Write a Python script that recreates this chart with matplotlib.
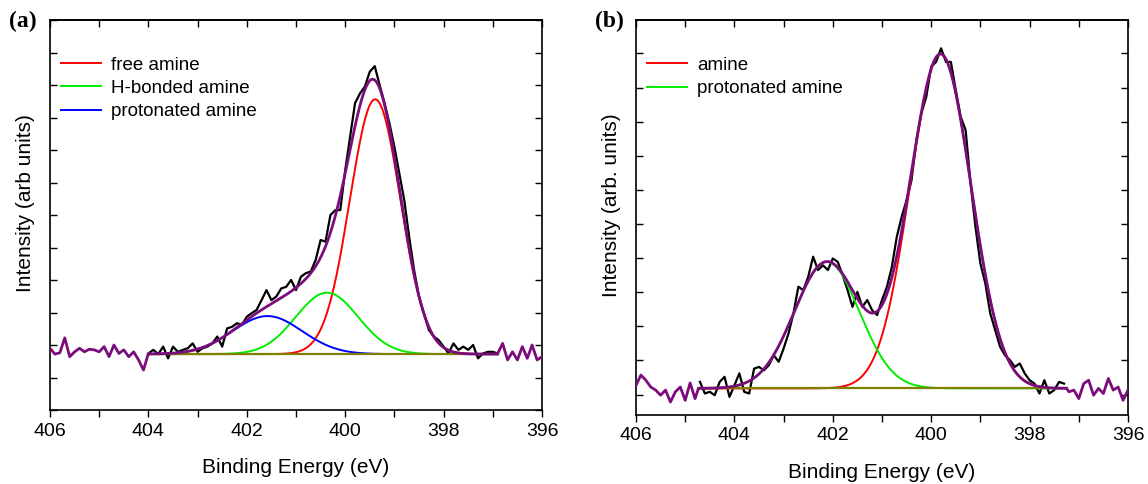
import numpy as np
import matplotlib
matplotlib.use("Agg")
import matplotlib.pyplot as plt
from matplotlib.ticker import MultipleLocator, FuncFormatter

# binding energy grid (eV), 406 -> 396
energy = [round(406.0 - 0.1 * i, 1) for i in range(101)]

# (a) raw spectrum, intensity in tick units
counts_a = [1.90, 1.72, 1.76, 2.22, 1.64, 1.79, 1.90, 1.79, 1.87, 1.85,
            1.79, 1.95, 1.64, 2.00, 1.74, 1.85, 1.64, 1.79, 1.54, 1.23,
            1.74, 1.85, 1.72, 1.95, 1.59, 1.95, 1.79, 1.85, 1.90, 2.05,
            1.79, 1.90, 1.95, 2.05, 2.26, 1.95, 2.51, 2.56, 2.67, 2.62,
            2.87, 2.98, 3.08, 3.38, 3.69, 3.38, 3.49, 3.74, 3.79, 4.00,
            3.69, 4.10, 4.21, 4.26, 4.62, 5.23, 5.18, 6.00, 6.15, 6.15,
            7.38, 8.41, 9.44, 9.74, 9.95, 10.41, 10.58, 10.00, 9.44, 8.82,
            8.10, 7.28, 6.46, 5.33, 4.31, 3.49, 2.98, 2.46, 2.26, 2.15,
            1.95, 1.74, 2.05, 1.85, 1.95, 1.85, 2.00, 1.59, 1.74, 1.79,
            1.79, 1.74, 2.05, 1.54, 1.79, 1.54, 1.95, 1.59, 2.00, 1.54,
            1.64]

# (b) raw spectrum
counts_b = [0.27, 0.57, 0.42, 0.22, 0.13, -0.02, 0.13, -0.22, 0.08, 0.22,
            -0.17, 0.34, -0.12, 0.37, 0.03, 0.08, -0.02, 0.37, 0.52, -0.07,
            0.27, 0.62, 0.08, 0.03, 0.76, 0.81, 0.71, 0.86, 1.15, 0.96,
            1.35, 1.79, 2.38, 3.16, 3.06, 3.45, 4.04, 3.65, 3.79, 3.65,
            3.99, 3.89, 3.50, 3.06, 2.57, 3.01, 2.57, 2.77, 2.47, 2.33,
            2.77, 3.16, 3.74, 4.62, 5.21, 5.70, 6.28, 7.46, 8.24, 8.73,
            9.61, 9.75, 10.15, 9.75, 9.75, 8.92, 8.14, 7.75, 6.19, 4.91,
            3.84, 3.26, 2.38, 1.89, 1.40, 1.15, 1.01, 0.81, 0.91, 0.62,
            0.42, 0.32, 0.03, 0.42, 0.03, 0.13, 0.37, 0.32, 0.08, 0.13,
            -0.12, 0.32, 0.42, -0.02, 0.18, 0.03, 0.47, 0.13, 0.22, -0.17,
            0.13]

# fit regions and linear background level
region_a = (404.0, 396.9)
region_b = (404.73, 397.25)
background_a = 1.72
background_b = 0.18

# fitted components: label, centre (eV), height, FWHM (eV)
labels_a = ["free amine", "H-bonded amine", "protonated amine"]
centres_a = [399.39, 400.37, 401.58]
heights_a = [7.84, 1.89, 1.17]
fwhm_a = [1.21, 1.49, 1.66]

labels_b = ["amine", "protonated amine"]
centres_b = [399.81, 402.12]
heights_b = [9.80, 3.71]
fwhm_b = [1.46, 1.56]

comp_colors = ["#ff0000", "#00ee00", "#0000ff"]


def peak(x, c, h, w):
    s = w / 2.3548
    return h * np.exp(-(x - c) ** 2 / (2 * s * s))


def panel(ax, counts, region, bg, labels, centres, heights, fwhm, yl):
    e = np.array(energy)
    y = np.array(counts)
    inside = (e <= region[0] + 1e-9) & (e >= region[1] - 1e-9)
    ax.plot(e[inside], y[inside], color="black", lw=1.6, zorder=2)

    xf = np.linspace(region[1], region[0], 400)
    total = np.full_like(xf, bg)
    handles = []
    for lab, c, h, w, col in zip(labels, centres, heights, fwhm, comp_colors):
        comp = peak(xf, c, h, w)
        total += comp
        hl, = ax.plot(xf, comp + bg, color=col, lw=1.4, label=lab, zorder=3)
        handles.append(hl)
    ax.plot(xf, np.full_like(xf, bg), color="#808000", lw=1.6, zorder=4)

    # envelope: raw data outside the fit region, fit inside
    left = e >= region[0] - 1e-9
    right = e <= region[1] + 1e-9
    ex = np.concatenate([e[left], xf[::-1], e[right]])
    ey = np.concatenate([y[left], total[::-1], y[right]])
    ax.plot(ex, ey, color="#7b0c7b", lw=2.0, zorder=5)

    ax.set_xlim(406, 396)
    ax.xaxis.set_major_locator(MultipleLocator(1))
    ax.xaxis.set_major_formatter(FuncFormatter(
        lambda v, p: f"{v:.0f}" if round(v) % 2 == 0 else ""))
    ax.yaxis.set_major_locator(MultipleLocator(1))
    ax.set_yticklabels([])
    ax.tick_params(axis="y", direction="in", length=5, width=1,
                   left=True, right=True, labelleft=False)
    ax.tick_params(axis="x", direction="out", length=5, width=1,
                   top=False, labelsize=14, pad=4)
    sec = ax.secondary_xaxis("top")
    sec.xaxis.set_major_locator(MultipleLocator(1))
    sec.tick_params(direction="in", length=5, width=1, labeltop=False)
    for s in ax.spines.values():
        s.set_linewidth(1.2)
    sec.spines["top"].set_linewidth(1.2)

    ax.set_xlabel("Binding Energy (eV)", fontsize=15, labelpad=13)
    ax.set_ylabel(yl, fontsize=15)
    ax.yaxis.set_label_coords(-0.030, 0.53)
    ax.legend(handles=handles, loc="upper left", frameon=False, fontsize=13.5,
              handlelength=2.1, handletextpad=0.55, labelspacing=0.33,
              bbox_to_anchor=(0.0, 0.935), borderaxespad=0.2)


fig = plt.figure(figsize=(11.48, 4.84), dpi=100)
plt.rcParams["font.family"] = ["Liberation Sans", "DejaVu Sans"]

ax1 = fig.add_axes([50 / 1148, 74 / 484, 492 / 1148, 390 / 484])
ax1.set_ylim(0, 12)
panel(ax1, counts_a, region_a, background_a, labels_a, centres_a,
      heights_a, fwhm_a, "Intensity (arb units)")

ax2 = fig.add_axes([636 / 1148, 69 / 484, 492 / 1148, 395 / 484])
ax2.set_ylim(-0.60, 10.98)
panel(ax2, counts_b, region_b, background_b, labels_b, centres_b,
      heights_b, fwhm_b, "Intensity (arb. units)")

fig.text(9 / 1148, 0.978, "(a)", fontsize=17, fontweight="bold",
         family="Liberation Serif", va="top")
fig.text(595 / 1148, 0.978, "(b)", fontsize=17, fontweight="bold",
         family="Liberation Serif", va="top")

fig.savefig("out.png", dpi=100)
